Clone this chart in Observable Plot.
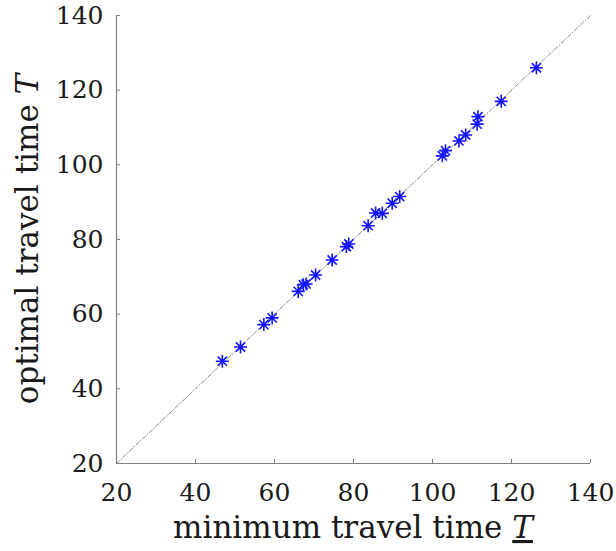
<!DOCTYPE html>
<html>
<head>
<meta charset="utf-8">
<script src="https://cdn.jsdelivr.net/npm/d3@7"></script>
<script src="https://cdn.jsdelivr.net/npm/@observablehq/plot@0.6"></script>
<style>
  html, body { margin: 0; padding: 0; background: #fff; }
</style>
</head>
<body>
<div id="chart"></div>
<script>
// minimum travel time (x) and optimal travel time (y)
const minTime = [46.8, 51.4, 57.3, 59.4, 66.0, 67.3, 68.0, 70.4, 74.6, 78.2, 78.8, 83.7, 85.6, 87.3, 89.8, 91.7, 102.5, 103.3, 106.7, 108.4, 111.3, 111.5, 117.4, 126.3];
const optTime = [47.4, 51.2, 57.2, 59.0, 66.1, 67.9, 68.1, 70.5, 74.5, 78.1, 78.8, 83.7, 87.1, 87.0, 89.7, 91.5, 102.4, 103.8, 106.4, 108.0, 110.9, 112.9, 117.0, 126.0];
const tickValues = [20, 40, 60, 80, 100, 120, 140];
const diagonal = [20, 140];

const points = minTime.map((x, i) => ({x, y: optTime[i]}));
const diag = diagonal.map(v => ({x: v, y: v}));

// MATLAB-style "*" marker: plus + cross
const star8 = {
  draw(ctx, size) {
    const r = Math.sqrt(size / Math.PI);
    const d = r * Math.SQRT1_2;
    ctx.moveTo(-r, 0); ctx.lineTo(r, 0);
    ctx.moveTo(0, -r); ctx.lineTo(0, r);
    ctx.moveTo(-d, -d); ctx.lineTo(d, d);
    ctx.moveTo(-d, d); ctx.lineTo(d, -d);
  }
};

const W = 616, H = 551;
const mL = 116, mR = 26, mT = 15, mB = 88;
const frameW = W - mL - mR, frameH = H - mT - mB;
const serif = "'DejaVu Serif', serif";

const plot = Plot.plot({
  width: W,
  height: H,
  marginLeft: mL,
  marginRight: mR,
  marginTop: mT,
  marginBottom: mB,
  style: {fontFamily: serif, fontSize: "25px", color: "#1a1a1a", background: "#fff"},
  x: {domain: [20, 140]},
  y: {domain: [20, 140]},
  marks: [
    Plot.line(diag, {x: "x", y: "y", stroke: "#8a8a8a", strokeWidth: 1, strokeDasharray: "4,2,1,2"}),
    Plot.ruleY([20], {stroke: "#7f7f7f", strokeWidth: 1.2}),
    Plot.ruleX([20], {stroke: "#7f7f7f", strokeWidth: 1.2}),
    Plot.tickX(tickValues, {x: d => d, stroke: "#7f7f7f", insetTop: frameH - 4}),
    Plot.tickY(tickValues, {y: d => d, stroke: "#7f7f7f", insetRight: frameW - 4}),
    Plot.axisX({ticks: tickValues, tickSize: 0, tickPadding: 20, label: null, fontFamily: "DejaVu Serif"}),
    Plot.axisY({ticks: tickValues, tickSize: 0, tickPadding: 13, label: null, fontFamily: "DejaVu Serif"}),
    Plot.dot(points, {x: "x", y: "y", symbol: star8, r: 6.5, stroke: "#1414ff", strokeWidth: 1.6, fill: "none"})
  ]
});

document.getElementById("chart").appendChild(plot);

// axis titles with italic / underlined T
const svg = d3.select(plot);
const xt = svg.append("text")
  .attr("x", mL + frameW / 2)
  .attr("y", 538)
  .attr("text-anchor", "middle")
  .attr("fill", "#1a1a1a")
  .style("font-family", serif)
  .style("font-size", "31px");
xt.append("tspan").text("minimum travel time ");
xt.append("tspan").attr("font-style", "italic").style("text-decoration", "underline").text("T");

const yt = svg.append("text")
  .attr("transform", `translate(38,${mT + frameH / 2}) rotate(-90)`)
  .attr("text-anchor", "middle")
  .attr("fill", "#1a1a1a")
  .style("font-family", serif)
  .style("font-size", "31px");
yt.append("tspan").text("optimal travel time ");
yt.append("tspan").attr("font-style", "italic").text("T");
</script>
</body>
</html>
